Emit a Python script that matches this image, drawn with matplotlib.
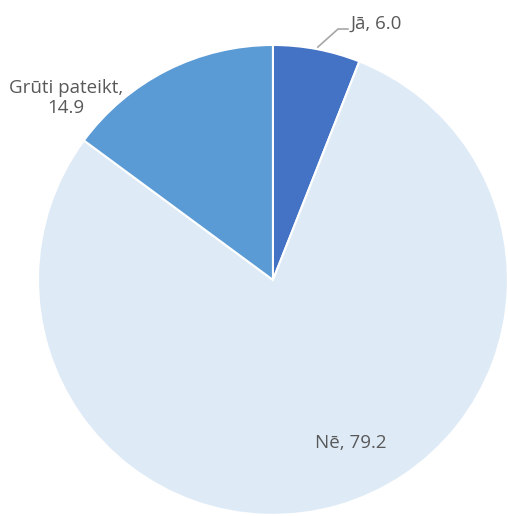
import matplotlib
matplotlib.use('Agg')
import matplotlib.pyplot as plt

labels = ['Jā', 'Nē', 'Grūti pateikt']
values = [6.0, 79.2, 14.9]
colors = ['#4472C4', '#DEEBF7', '#5B9BD5']

plt.rcParams['font.family'] = ['Open Sans', 'DejaVu Sans']

fig = plt.figure(figsize=(5.08, 5.16), dpi=100)
ax = fig.add_axes([0.0748, 0.002, 0.925, 0.911])

ax.pie(values, colors=colors, startangle=90, counterclock=False,
       wedgeprops=dict(edgecolor='white', linewidth=1.5))
ax.set_xlim(-1, 1)
ax.set_ylim(-1, 1)
ax.set_aspect('equal')

txt_color = '#595959'
fs = 13.5
# Jā label with leader line
ax.plot([0.191, 0.277, 0.319], [0.991, 1.068, 1.068], color='#a6a6a6', lw=1.2, clip_on=False)
ax.text(0.328, 1.09, '%s, %.1f' % (labels[0], values[0]), ha='left', va='center',
        fontsize=fs, color=txt_color)
ax.text(-0.88, 0.775, '%s,\n%.1f' % (labels[2], values[2]), ha='center', va='center',
        multialignment='center', fontsize=fs, color=txt_color, linespacing=1.1)
ax.text(0.332, -0.694, '%s, %.1f' % (labels[1], values[1]), ha='center', va='center',
        fontsize=fs, color=txt_color)

fig.savefig('out.png', dpi=100, facecolor='white')
